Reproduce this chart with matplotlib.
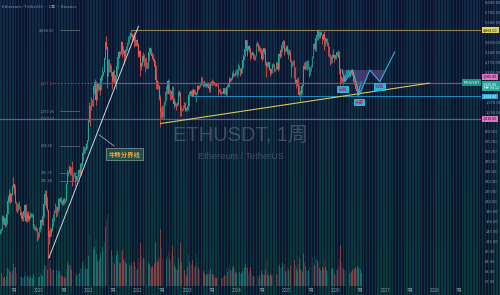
#!/usr/bin/env python3
# ethusdt_weekly.py - ETHUSDT 1W chart, TradingView-ish dark style

import numpy as np
import pandas as pd
import matplotlib
matplotlib.use("Agg")
import matplotlib.pyplot as plt
import matplotlib.transforms as mtransforms
from matplotlib.ticker import FixedLocator, NullLocator, FuncFormatter

plt.rcParams['font.family'] = ['Noto Sans CJK SC', 'DejaVu Sans']

# weekly candles, first week starts 2019-03-18
first_open = 133

close_2019 = [137,141,177,164,172,155,162,188,234,250,267,231,268,304,318,288,228,210,207,222,208,185,189,172,181,197,218,166,179,187,171,181,182,184,184,151,151,147,142,132,127,143]
high_2019 = [143,146,184,185,178,176,165,192,264,270,289,274,273,315,362,320,313,236,227,227,236,214,199,194,185,200,224,222,184,198,197,183,194,192,190,188,156,152,151,146,135,149]
low_2019 = [132,134,140,157,160,150,151,158,186,230,233,222,230,262,300,268,227,199,190,198,203,183,178,166,165,176,195,162,162,174,165,165,175,176,179,146,142,141,139,116,120,125]
vol_2019 = [2.1,2.6,4.4,3.6,2.8,3.2,2.5,3.5,6.1,5.9,5.4,4.9,4.2,5.3,7.5,6.2,6.6,4.6,3.8,3.3,4.0,3.5,3.0,3.2,2.6,2.8,3.4,4.8,3.2,3.3,3.1,2.6,3.5,2.9,2.7,4.3,3.6,2.6,2.7,3.3,2.6,3.0]

close_2020 = [145,167,160,180,223,265,262,218,200,124,132,131,143,158,171,197,206,186,199,207,243,244,232,233,228,241,238,239,321,386,390,433,395,428,353,373,384,355,345,366,368,408,384,455,462,549,575,586,586,641,688,975]
high_2020 = [150,172,175,184,227,288,287,262,251,201,141,148,145,173,188,200,227,215,214,215,247,253,251,239,249,247,249,245,325,415,401,445,438,429,480,378,394,393,362,376,385,414,421,468,479,561,622,624,610,660,698,1000]
low_2020 = [136,143,155,155,178,220,252,209,196,86,110,125,126,139,151,166,190,178,180,195,201,230,225,220,221,222,235,228,236,318,370,385,372,376,308,335,360,309,335,336,352,365,371,374,436,449,479,540,555,578,601,683]
vol_2020 = [3.2,4.6,3.9,3.5,5.8,7.4,6.9,6.8,5.6,12.5,8.8,6.1,5.2,5.9,5.5,6.4,7.2,6.3,5.4,4.3,5.2,5.1,4.2,3.3,3.6,3.1,3.0,2.8,5.9,8.2,7.1,7.5,6.8,5.4,9.6,6.2,5.1,5.9,4.4,3.9,3.8,4.5,4.6,6.3,5.9,7.8,9.1,7.4,5.8,6.4,6.0,10.2]

close_2021 = [1260,1230,1390,1315,1610,1800,1935,1417,1720,1855,1785,1690,2080,2140,2240,2310,2950,3910,3580,2100,2430,2600,2510,2240,1980,2330,2040,1890,2190,2560,3010,3310,3240,3230,3940,3410,3330,3060,3390,3420,3840,4080,4290,4610,4570,4300,4440,4120,3960,3920,4050,3760]
high_2021 = [1350,1280,1475,1440,1700,1870,2040,1960,1740,1900,1870,1830,2140,2200,2550,2370,2990,3960,4372,3590,2910,2890,2720,2620,2290,2410,2410,2130,2200,2700,3180,3340,3340,3370,4030,3950,3680,3420,3480,3650,3970,4380,4460,4670,4868,4580,4550,4780,4400,4100,4120,4100]
low_2021 = [950,890,1180,1270,1270,1560,1740,1300,1400,1660,1710,1550,1680,1930,2000,2170,2300,2900,3500,1730,2150,2300,2300,2140,1700,1950,1990,1860,1718,2150,2460,2950,2980,3100,3160,3000,3210,2650,2950,3300,3400,3720,3900,4150,4480,3950,4080,3580,3640,3650,3880,3680]
vol_2021 = [17.5,19.8,12.4,13.1,14.6,12.8,13.5,16.2,10.9,8.7,8.1,9.4,11.3,9.8,13.6,12.1,15.0,20.4,22.6,24.8,15.2,11.4,9.5,10.1,12.3,10.4,8.3,7.6,8.8,10.6,12.2,10.9,8.0,7.9,11.7,12.5,8.9,9.6,8.2,7.5,7.9,8.8,7.6,7.2,7.4,8.0,6.5,8.9,8.3,6.8,5.4,5.9]

close_2022 = [3150,3330,2530,2690,3060,2880,2620,2920,2500,2520,2860,3290,3520,3210,3060,2920,2830,2520,2010,1970,1810,1800,1450,1130,1140,1070,1160,1340,1550,1680,1700,1990,1575,1555,1570,1640,1440,1310,1310,1300,1280,1310,1590,1570,1210,1220,1205,1280,1275,1170,1220,1200]
high_2022 = [3840,3410,3360,2720,3100,3280,3200,2980,3040,2750,3000,3300,3580,3550,3310,3190,2970,2860,2630,2150,2020,1980,1850,1550,1240,1290,1280,1380,1640,1790,1820,2030,2020,1720,1650,1790,1790,1460,1400,1380,1340,1360,1660,1680,1620,1300,1230,1300,1350,1350,1230,1230]
low_2022 = [3000,3040,2160,2380,2570,2780,2560,2300,2470,2440,2480,2800,3210,3170,2950,2800,2710,2490,1700,1920,1720,1720,1420,880,1030,1000,1040,1010,1300,1400,1580,1670,1560,1420,1420,1540,1400,1220,1260,1260,1190,1260,1300,1510,1070,1070,1160,1190,1230,1160,1160,1180]
vol_2022 = [9.5,8.1,14.8,10.2,9.0,9.8,9.3,11.6,8.4,7.9,7.0,8.2,7.5,6.9,6.2,6.8,6.1,8.0,15.3,9.4,8.3,8.8,10.1,19.6,13.0,9.8,9.1,12.2,13.5,11.8,9.4,10.3,11.6,9.2,8.6,11.4,13.9,10.5,7.2,6.1,5.8,5.6,9.8,7.3,14.7,8.2,5.9,5.3,4.9,5.6,4.2,3.4]

close_2023 = [1265,1550,1630,1570,1630,1515,1690,1585,1565,1590,1790,1715,1795,1860,2090,1865,1870,1905,1800,1805,1910,1815,1750,1720,1900,1955,1870,1925,1865,1860,1830,1850,1670,1655,1630,1615,1625,1590,1730,1580,1560,1785,1795,1895,2045,2015,2060,2250,2225,2195,2265,2280]
high_2023 = [1290,1560,1680,1680,1720,1680,1740,1720,1680,1630,1845,1840,1840,1945,2140,2125,1960,2020,1930,1860,1930,1930,1890,1775,1930,1960,2030,2020,1945,1890,1870,1870,1860,1700,1745,1660,1660,1680,1750,1750,1600,1860,1870,1910,2135,2090,2135,2310,2400,2250,2340,2450]
low_2023 = [1190,1260,1510,1520,1560,1500,1510,1560,1540,1370,1580,1680,1700,1780,1850,1830,1780,1810,1760,1760,1780,1740,1620,1625,1700,1840,1830,1850,1840,1820,1800,1810,1550,1610,1580,1530,1590,1570,1570,1560,1520,1550,1760,1780,1880,1930,1990,2040,2130,2150,2160,2220]
vol_2023 = [6.5,10.9,8.3,7.2,7.7,8.8,7.4,6.2,6.9,11.0,8.2,6.1,5.6,5.8,8.6,6.7,5.0,5.3,4.5,3.8,3.7,4.2,5.6,4.0,5.8,4.6,4.2,3.7,3.2,2.7,2.6,3.0,4.6,3.2,2.7,3.4,2.6,2.7,3.5,3.8,3.4,6.1,4.8,5.8,7.4,5.6,5.0,6.2,6.9,5.8,4.8,4.5]

close_2024 = [2220,2470,2455,2260,2290,2500,2880,3110,3490,4060,3520,3450,3650,3450,3100,3150,3260,3140,2920,3070,3830,3780,3700,3570,3420,3430,2930,3250,3530,3270,2690,2560,2610,2750,2430,2270,2420,2580,2660,2440,2470,2750,2510,2460,3180,3070,3360,3700,3940,3880,3330,3360,3630]
high_2024 = [2420,2720,2610,2470,2400,2540,2890,3130,3520,4090,4070,3600,3680,3730,3630,3280,3360,3290,3180,3100,3840,3975,3890,3720,3630,3530,3480,3260,3560,3560,3400,2790,2780,2820,2760,2470,2460,2700,2730,2670,2500,2770,2770,2720,3250,3450,3450,3740,4090,4010,4110,3540,3740]
low_2024 = [2100,2200,2410,2170,2220,2280,2470,2850,3050,3360,3200,3060,3400,3320,2850,2990,3100,2900,2860,2870,3050,3680,3360,3360,3240,3310,2810,2890,3200,3090,2630,2110,2520,2540,2400,2150,2250,2280,2540,2310,2340,2440,2440,2360,2420,2950,3010,3300,3570,3520,3100,3300,3330]
vol_2024 = [5.8,8.3,5.4,4.8,4.2,4.5,5.0,4.8,6.1,7.7,6.6,6.2,4.3,5.3,6.7,4.5,3.5,3.4,3.2,3.0,5.9,4.5,3.5,3.2,3.7,2.9,5.0,3.8,4.2,3.7,5.4,9.3,4.2,3.4,3.8,4.0,3.5,3.7,3.5,3.8,3.4,3.2,4.0,3.7,6.6,7.2,6.2,6.7,8.0,7.4,7.7,5.0,4.5]

close_2025 = [3270,3310,3180,2870,2630,2690,2820,2210,2020,1910,2000,1820,1550,1620,1590,1790,1810,2510,2470,2530,2530,2510,2530,2230,2500,2570,2970,3760,3790,3490,4260,4470,4780,4390,4300,4600,4480,4140,4510,4150,3980,4160,3890,3580,3090,2800,2990,3040,3100,2980,2950,3140]
high_2025 = [3700,3450,3450,3440,2920,2800,2850,2850,2550,2030,2070,2100,1850,1690,1700,1830,1870,2600,2740,2790,2790,2880,2880,2590,2520,2610,3080,3770,3860,3940,4330,4790,4956,4790,4490,4770,4770,4480,4550,4750,4300,4250,4250,3920,3650,3180,3070,3190,3450,3200,3050,3190]
low_2025 = [3160,2920,3100,2750,2120,2550,2620,2080,1990,1750,1860,1770,1530,1385,1540,1560,1750,1800,2420,2400,2450,2390,2460,2110,2200,2370,2530,2950,3500,3350,3360,4060,4060,4230,4220,4290,4430,3830,4080,3435,3680,3850,3690,3050,3000,2620,2710,2720,3000,2780,2890,2910]
vol_2025 = [6.4,5.8,5.3,7.0,11.0,6.1,5.4,9.4,9.0,7.4,6.2,5.3,7.5,9.8,5.8,5.6,4.8,10.9,8.2,6.9,5.6,5.0,5.1,6.7,4.8,4.2,7.7,9.9,8.0,7.4,9.3,9.6,9.0,7.8,6.1,5.6,5.1,6.7,5.8,9.3,6.6,5.6,5.3,7.8,6.9,9.0,5.8,5.9,6.2,5.4,4.2,3.8]

close_2026 = [3300,3310,2950,2450,2100,2050,1980,2000,2080,2150,2300,2250,2350,2200,2250,2380,2300,2150,1950,1850,1700,1650,1580,1620,1800,1900,1920]
high_2026 = [3310,3400,3350,3050,2500,2150,2100,2100,2200,2250,2400,2380,2450,2400,2320,2450,2420,2330,2200,2000,1880,1760,1700,1680,1850,1960,1990]
low_2026 = [3050,3200,2880,2250,1750,1900,1900,1850,1950,2020,2100,2150,2200,2120,2100,2200,2220,2080,1900,1780,1650,1580,1500,1480,1600,1780,1860]
vol_2026 = [6.0,5.4,6.8,9.5,14.2,8.1,6.4,5.9,5.6,5.2,6.0,5.1,5.4,4.9,4.6,5.3,4.8,5.5,6.3,5.9,6.6,5.8,6.9,6.2,6.5,5.4,4.4]

# price axis labels (those hidden under the colored tags left out) and time axis labels
price_ticks = [8000, 6700, 5600, 3950, 3300, 2770, 2320, 1370, 1150,
               805, 675, 565, 475, 398, 333, 279, 234, 196, 164, 137, 115, 96, 81, 68, 57]
time_ticks = ['2019-07-01', '2020-01-01', '2020-07-01', '2021-01-01', '2021-07-01', '2022-01-01',
              '2022-07-01', '2023-01-01', '2023-07-01', '2024-01-01', '2024-07-01', '2025-01-01',
              '2025-07-01', '2026-01-01', '2026-07-01', '2027-01-01', '2027-07-01', '2028-01-01',
              '2028-07-01']
time_labels = ['7月', '2020', '7月', '2021', '7月', '2022', '7月', '2023', '7月', '2024', '7月',
               '2025', '7月', '2026', '7月', '2027', '7月', '2028', '7月']

# drawn levels
ath_level = 4868.0
ath_start = '2021-11-10'
purple_a = 1905.0
purple_a_start = '2021-02-12'
purple_b = 1010.0
blue_level = 1500.0
blue_start = '2023-02-05'
bull_bear_dates = ['2020-03-13', '2022-01-03']
bull_bear_prices = [86, 5200]
trend_dates = ['2022-06-18', '2027-11-20']
trend_prices = [930, 1900]
left_marks = [4868.00, 1877.02, 1159.96, 1023.57, 624.18, 386.70, 335.44]

# inverse head and shoulders drawing
hs_dates = ['2026-02-14', '2026-03-07', '2026-05-04', '2026-06-23', '2026-09-07', '2026-11-20', '2027-03-10']
hs_prices = [2400, 1950, 2400, 1550, 2400, 1950, 3300]
hs_neck_end = ('2027-01-04', 2400)
hs_labels = ['左肩', '头部', '右肩']
hs_label_dates = ['2026-02-22', '2026-06-23', '2026-11-20']
hs_label_prices = [1690, 1355, 1775]

UP = '#26a69a'
DOWN = '#ef5350'
NAVY = np.array([12, 20, 48]) / 255


def stripes(width):
    return np.floor(np.arange(width) / 1.45) % 2 == 0


def background(fig):
    # striped dark teal / navy backdrop
    H, W = 295, 500
    yy = np.linspace(0, 1, H)[:, None, None]
    top = np.array([18, 42, 70]) / 255
    bot = np.array([8, 60, 58]) / 255
    lane = top + (bot - top) * yy
    img = np.where(stripes(W)[None, :, None], lane, NAVY)
    bg = fig.add_axes([0, 0, 1, 1], zorder=-1)
    bg.imshow(img, aspect='auto', interpolation='nearest', extent=[0, 1, 0, 1])
    bg.axis('off')


def main():
    close = close_2019 + close_2020 + close_2021 + close_2022 + close_2023 + close_2024 + close_2025 + close_2026
    high = high_2019 + high_2020 + high_2021 + high_2022 + high_2023 + high_2024 + high_2025 + high_2026
    low = low_2019 + low_2020 + low_2021 + low_2022 + low_2023 + low_2024 + low_2025 + low_2026
    vol = vol_2019 + vol_2020 + vol_2021 + vol_2022 + vol_2023 + vol_2024 + vol_2025 + vol_2026
    n = min(len(close), len(high), len(low), len(vol))
    close, high, low, vol = close[:n], high[:n], low[:n], vol[:n]
    opens = [first_open] + close[:-1]
    dates = pd.date_range('2019-03-18', periods=n, freq='7D')

    up = [c >= o for o, c in zip(opens, close)]
    colors = [UP if u else DOWN for u in up]

    fig = plt.figure(figsize=(5.0, 2.95), dpi=100)
    background(fig)

    ax = fig.add_axes([0, 9 / 295, 481 / 500, 286 / 295])
    axv = ax.twinx()
    ax.set_zorder(2)
    axv.set_zorder(1)
    ax.patch.set_visible(False)
    axv.patch.set_visible(False)

    # volume, with the striped look laid over it
    axv.bar(dates, vol, width=6, color=colors, alpha=0.5, linewidth=0)
    axv.set_ylim(0, 98.5)
    axv.set_yticks([])
    ov = np.zeros((286, 481, 4))
    ov[..., :3] = NAVY
    ov[..., 3] = np.where(stripes(481)[None, :], 0.0, 0.55)
    axv.imshow(ov, extent=[0, 1, 0, 1], transform=axv.transAxes, aspect='auto',
               interpolation='nearest', zorder=3)
    axv.set_ylim(0, 98.5)

    # candles
    lo_b = [min(o, c) for o, c in zip(opens, close)]
    hi_b = [max(o, c) for o, c in zip(opens, close)]
    ax.vlines(dates, low, high, colors=colors, lw=0.55)
    ax.bar(dates, np.array(hi_b) - np.array(lo_b), bottom=lo_b, width=5.5, color=colors, linewidth=0)

    ax.set_yscale('log')
    ax.set_ylim(52.3, 8280)
    ax.set_xlim(pd.Timestamp('2019-03-18'), pd.Timestamp('2028-12-06'))

    for s in list(ax.spines.values()) + list(axv.spines.values()):
        s.set_visible(False)

    # price scale on the right
    ax.yaxis.tick_right()
    ax.yaxis.set_major_locator(FixedLocator(price_ticks))
    ax.yaxis.set_minor_locator(NullLocator())
    ax.yaxis.set_major_formatter(FuncFormatter(lambda v, p: f'{v:,.2f}'))
    ax.tick_params(axis='y', length=0, pad=3, labelsize=2.9, labelcolor='#8d97aa')
    ax.set_xticks(pd.to_datetime(time_ticks))
    ax.set_xticklabels(time_labels)
    ax.tick_params(axis='x', length=0, pad=1.5, labelsize=3.2, labelcolor='#8d97aa')

    x_end = pd.Timestamp('2028-12-06')

    # horizontal levels
    ax.plot([pd.Timestamp(ath_start), x_end], [ath_level, ath_level], color='#8c8258', lw=0.8)
    ax.plot([pd.Timestamp(purple_a_start), x_end], [purple_a, purple_a], color='#7b4f8c', lw=0.9)
    ax.axhline(purple_b, color='#7b4f8c', lw=0.9)
    ax.plot([pd.Timestamp(blue_start), x_end], [blue_level, blue_level], color='#1e88b8', lw=0.8)

    # ascending support and bull/bear line
    ax.plot(pd.to_datetime(trend_dates), trend_prices, color='#d8c85a', lw=0.8)
    ax.plot(pd.to_datetime(bull_bear_dates), bull_bear_prices, color='#cdd8e6', lw=0.7)

    # left level labels with short ticks
    lbl_x = pd.Timestamp('2020-02-28')
    for i, v in enumerate(left_marks):
        col = '#a0524a' if i == 1 else '#7f8999'
        ax.text(lbl_x, v, f'{v:,.2f}', fontsize=2.8, color=col, ha='center', va='center')
        if i not in (1, 3):
            ax.plot([pd.Timestamp('2020-06-04'), pd.Timestamp('2020-10-20')], [v, v],
                    color='#5d6674', lw=0.6)
    ax.plot([pd.Timestamp('2020-04-20'), pd.Timestamp(purple_a_start)], [purple_a, purple_a],
            color='#5d6674', lw=0.6, ls=(0, (2, 2)))

    ax.annotate('牛熊分界线', xy=(pd.Timestamp('2021-03-01'), 785),
                xytext=(pd.Timestamp('2021-09-25'), 541),
                fontsize=4.6, color='#f2a43a', ha='center', va='center', fontweight='bold',
                bbox=dict(boxstyle='square,pad=0.4', fc='#1f4d4a', ec='#8d9c9c', lw=0.5),
                arrowprops=dict(arrowstyle='-', color='#b8c4c8', lw=0.5))

    # head and shoulders
    hs_x = pd.to_datetime(hs_dates)
    poly_x = list(hs_x[:6]) + [pd.Timestamp(hs_neck_end[0])]
    poly_y = hs_prices[:6] + [hs_neck_end[1]]
    ax.fill(poly_x, poly_y, color='#6b4f96', alpha=0.55, lw=0)
    ax.plot(hs_x, hs_prices, color='#2cb5d8', lw=0.8)
    for t, d, p in zip(hs_labels, hs_label_dates, hs_label_prices):
        ax.text(pd.Timestamp(d), p, t, fontsize=3.4, color='#c2185b', ha='center', va='center',
                bbox=dict(boxstyle='square,pad=0.25', fc='#2bb6d6', ec='none'))

    # price labels on the axis
    tr = mtransforms.blended_transform_factory(ax.transAxes, ax.transData)
    def tag(price, text, fc, tc, dy=0):
        ax.annotate(text, xy=(1.0, price), xycoords=tr, xytext=(1.5, dy), textcoords='offset points',
                    fontsize=2.7, color=tc, ha='left', va='center', annotation_clip=False,
                    linespacing=1.0,
                    bbox=dict(boxstyle='square,pad=0.25', fc=fc, ec='none'))
    last = close[-1]
    tag(ath_level, f'{ath_level:,.2f}', '#e3d35b', '#1a1a1a')
    tag(purple_a, f'{purple_a:,.2f}', '#df72c4', '#1a1a1a', dy=4.6)
    tag(last, f'{last:,.2f}\n3天 04:12', UP, 'white', dy=-2.4)
    tag(blue_level, f'{blue_level:,.2f}', '#2aa7d6', 'white')
    tag(purple_b, f'{purple_b:,.2f}', '#df72c4', '#1a1a1a')
    ax.annotate('ETHUSDT', xy=(1.0, last), xycoords=tr, xytext=(-1, 0), textcoords='offset points',
                fontsize=2.6, color='white', ha='right', va='center', annotation_clip=False,
                bbox=dict(boxstyle='square,pad=0.3', fc='#1f8f86', ec='none'))

    # watermark and legend
    ax.text(0.5, 0.527, 'ETHUSDT, 1周', transform=ax.transAxes, ha='center', va='center',
            fontsize=14.5, color='#56627a', alpha=0.7, family=['Liberation Sans', 'Noto Sans CJK SC'])
    ax.text(0.5, 0.452, 'Ethereum / TetherUS', transform=ax.transAxes, ha='center', va='center',
            fontsize=6.6, color='#56627a', alpha=0.7, family=['Liberation Sans', 'Noto Sans CJK SC'])
    ax.text(0.004, 0.985, 'Ethereum / TetherUS · 1周 · Binance', transform=ax.transAxes,
            ha='left', va='top', fontsize=3.0, color='#8d97aa')

    fig.savefig('out.png', dpi=100)


if __name__ == "__main__":
    main()
